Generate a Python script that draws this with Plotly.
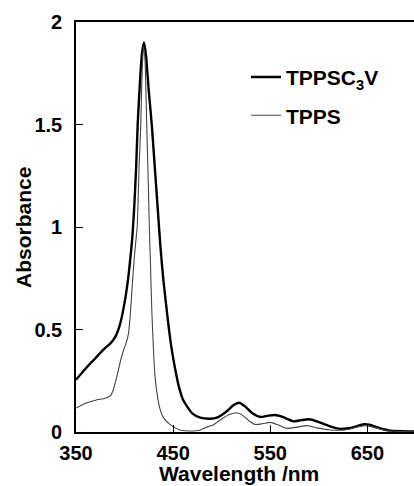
import plotly.graph_objects as go

# TPPSC3V (thick line)
wl_c3v = [350, 360, 370, 380, 385, 390, 395, 400, 404, 406, 408, 410, 412, 413.5, 416, 418, 420,
          422, 425, 428, 431, 434, 437, 440, 444, 448, 452, 456, 460, 465, 470, 478, 488, 495,
          505, 512, 518, 524, 532, 540, 548, 555, 562, 574, 582, 590, 598, 610, 622, 635, 646,
          652, 662, 672, 685, 700]
abs_c3v = [0.255, 0.31, 0.36, 0.41, 0.43, 0.46, 0.52, 0.63, 0.76, 0.85, 0.95, 1.1, 1.3, 1.5, 1.72,
           1.85, 1.90, 1.84, 1.66, 1.5, 1.3, 1.1, 0.9, 0.74, 0.57, 0.42, 0.31, 0.22, 0.16, 0.12,
           0.09, 0.07, 0.065, 0.07, 0.10, 0.13, 0.143, 0.125, 0.09, 0.073, 0.08, 0.083, 0.075,
           0.052, 0.058, 0.062, 0.052, 0.03, 0.015, 0.022, 0.038, 0.036, 0.02, 0.008, 0.004, 0.003]

# TPPS (thin line)
wl_tpps = [350, 360, 370, 380, 385, 388, 392, 396, 399, 402, 404, 406, 408, 410, 412, 413, 415,
           416.7, 418, 419.5, 421, 422.8, 424.5, 425.5, 426.5, 428, 431.4, 434, 436.6, 440, 447,
           457, 470, 478, 485, 491, 501, 508, 515.6, 522, 528, 534.5, 542, 550, 558, 567, 578,
           588, 598, 612, 630, 640, 650, 660, 670, 685, 700]
abs_tpps = [0.117, 0.14, 0.155, 0.165, 0.175, 0.20, 0.27, 0.35, 0.40, 0.44, 0.48, 0.58, 0.72, 0.85,
            0.95, 1.0, 1.3, 1.5, 1.75, 1.88, 1.82, 1.5, 1.2, 1.0, 0.85, 0.6, 0.27, 0.17, 0.11, 0.07,
            0.036, 0.01, 0.005, 0.01, 0.025, 0.034, 0.067, 0.085, 0.094, 0.08, 0.055, 0.037, 0.04,
            0.047, 0.035, 0.018, 0.024, 0.031, 0.02, 0.01, 0.012, 0.025, 0.03, 0.018, 0.006,
            0.002, 0.001]

x_ticks = [350, 450, 550, 650]
y_ticks = [0, 0.5, 1, 1.5, 2]
y_ticktext = ["0", "0.5", "1", "1.5", "2"]

FONT = "Liberation Sans, Arial, sans-serif"

fig = go.Figure()
fig.add_trace(go.Scatter(x=wl_c3v, y=abs_c3v, mode="lines", name="TPPSC<sub>3</sub>V",
                         legendgroup="a",
                         line=dict(color="black", width=2.4, shape="spline", smoothing=0.6)))
fig.add_trace(go.Scatter(x=wl_tpps, y=abs_tpps, mode="lines", name="TPPS",
                         legendgroup="b",
                         line=dict(color="#444444", width=1.1, shape="spline", smoothing=0.6)))

fig.update_layout(
    width=414, height=486,
    margin=dict(l=76, r=0, t=22, b=54, autoexpand=False),
    paper_bgcolor="white", plot_bgcolor="white",
    font=dict(family=FONT, size=20, color="black", weight="bold"),
    showlegend=True,
    legend=dict(x=0.503, y=0.915, xanchor="left", yanchor="top",
                bgcolor="rgba(0,0,0,0)", borderwidth=0,
                font=dict(family=FONT, size=21, color="black", weight="bold"),
                tracegroupgap=8, traceorder="grouped"),
    xaxis=dict(range=[350, 698], tickvals=x_ticks, ticks="inside", ticklen=7,
               tickwidth=1.2, tickcolor="black", showline=True, linecolor="black",
               linewidth=2, mirror=True, showgrid=False, zeroline=False, automargin=False,
               tickfont=dict(family=FONT, size=20, color="black", weight="bold"),
               ticklabelstandoff=2),
    yaxis=dict(range=[0, 2], tickvals=y_ticks, ticktext=y_ticktext, ticks="inside",
               ticklen=7, tickwidth=1.2, tickcolor="black", showline=True,
               linecolor="black", linewidth=1.6, showgrid=False, zeroline=False,
               automargin=False,
               tickfont=dict(family=FONT, size=20, color="black", weight="bold"),
               ticklabelstandoff=8),
    annotations=[
        dict(text="Wavelength /nm", xref="paper", yref="paper", x=0.481, y=-0.100,
             xanchor="center", yanchor="middle", showarrow=False,
             font=dict(family=FONT, size=21, color="black", weight="bold")),
        dict(text="Absorbance", xref="paper", yref="paper", x=-0.157, y=0.5,
             xanchor="center", yanchor="middle", showarrow=False, textangle=-90,
             font=dict(family=FONT, size=21, color="black", weight="bold")),
    ],
)

fig.write_html("out.html",
               config={"displayModeBar": False},
               post_script="document.body.style.margin='0px';"
                           "document.body.style.overflow='hidden';")
